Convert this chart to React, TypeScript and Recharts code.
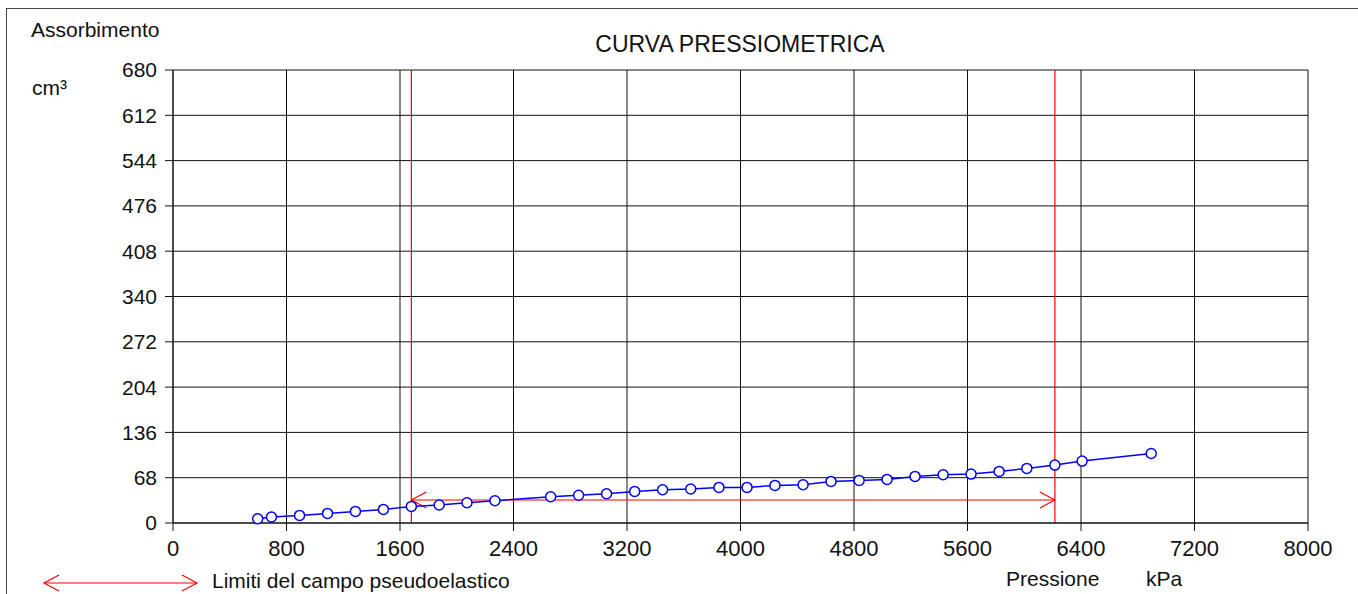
import React from 'react';
import { LineChart, Line, XAxis, YAxis, CartesianGrid, ReferenceLine } from 'recharts';

const pressures = [597, 694, 892, 1089, 1286, 1483, 1680, 1876, 2072, 2269, 2662, 2859, 3056, 3254, 3451, 3649, 3848, 4046, 4243, 4441, 4638, 4836, 5033, 5230, 5428, 5625, 5823, 6018, 6216, 6408, 6895];
const volumes = [6.4, 9.0, 11.4, 14.4, 17.4, 20.4, 24.9, 27.0, 30.4, 33.4, 39.4, 41.7, 43.9, 47.4, 49.9, 51.0, 53.4, 53.4, 56.4, 57.4, 62.4, 63.9, 65.4, 69.9, 72.4, 73.4, 77.4, 81.9, 86.9, 92.9, 104.4];
const xTicks = [0, 800, 1600, 2400, 3200, 4000, 4800, 5600, 6400, 7200, 8000];
const yTicks = [0, 68, 136, 204, 272, 340, 408, 476, 544, 612, 680];
const elasticLimits = [1680, 6216];
const arrowLevel = 34.5;

const data = pressures.map((p, i) => ({ p, v: volumes[i] }));

const FONT = '"Liberation Sans", Arial, Helvetica, sans-serif';

const ArrowShape = (props: any) => {
  const { x1, y1, x2, y2 } = props;
  const left = Math.min(x1, x2);
  const right = Math.max(x1, x2);
  const y = y1;
  return (
    <g stroke="#ff0000" strokeWidth={1.2} fill="none">
      <line x1={left} y1={y} x2={right} y2={y2} />
      <polyline points={`${left + 15},${y - 8} ${left},${y} ${left + 15},${y + 8}`} />
      <polyline points={`${right - 15},${y - 8} ${right},${y} ${right - 15},${y + 8}`} />
    </g>
  );
};

export default function App() {
  return (
    <div style={{ position: 'absolute', left: 0, top: 0, width: 1358, height: 594, overflow: 'hidden', background: '#fff', fontFamily: FONT }}>
      <div style={{ position: 'absolute', left: 6, top: 8, width: 1500, height: 800, border: '1.5px solid #444', boxSizing: 'border-box' }} />
      <div style={{ position: 'absolute', left: 0, top: 0 }}>
        <LineChart width={1358} height={594} data={data} margin={{ top: 70, right: 50, bottom: 31, left: 113 }} style={{ fontFamily: FONT }}>
          <CartesianGrid stroke="#111" strokeWidth={1} horizontalValues={yTicks} verticalValues={xTicks} />
          <XAxis
            dataKey="p"
            type="number"
            domain={[0, 8000]}
            ticks={xTicks}
            interval={0}
            height={40}
            tickSize={8}
            tickMargin={9}
            stroke="#111"
            tick={{ fill: '#111', fontSize: 22, fontFamily: FONT }}
          />
          <YAxis
            dataKey="v"
            type="number"
            domain={[0, 680]}
            ticks={yTicks}
            interval={0}
            width={60}
            tickSize={8}
            tickMargin={8}
            stroke="#111"
            tick={{ fill: '#111', fontSize: 21, fontFamily: FONT }}
          />
          {elasticLimits.map((x) => (
            <ReferenceLine key={x} x={x} stroke="#ff0000" strokeWidth={1.2} />
          ))}
          <ReferenceLine
            segment={[{ x: elasticLimits[0], y: arrowLevel }, { x: elasticLimits[1], y: arrowLevel }]}
            shape={ArrowShape}
          />
          <Line
            type="linear"
            dataKey="v"
            stroke="#0000ff"
            strokeWidth={1.5}
            dot={{ r: 5, fill: '#fff', stroke: '#0000ff', strokeWidth: 1.5 }}
            isAnimationActive={false}
          />
        </LineChart>
      </div>
      <div style={{ position: 'absolute', left: 31, top: 18, fontSize: 21, color: '#111', lineHeight: '24px' }}>Assorbimento</div>
      <div style={{ position: 'absolute', left: 32, top: 76, fontSize: 21, color: '#111', lineHeight: '24px' }}>cm³</div>
      <div style={{ position: 'absolute', left: 440, width: 600, textAlign: 'center', top: 31, fontSize: 23, color: '#111', lineHeight: '26px' }}>CURVA PRESSIOMETRICA</div>
      <svg style={{ position: 'absolute', left: 0, top: 560 }} width={220} height={34}>
        <g stroke="#ff0000" strokeWidth={1.2} fill="none">
          <line x1={44} y1={23} x2={197} y2={23} />
          <polyline points="59,15 44,23 59,31" />
          <polyline points="182,15 197,23 182,31" />
        </g>
      </svg>
      <div style={{ position: 'absolute', left: 212, top: 569, fontSize: 21, color: '#111', lineHeight: '24px', whiteSpace: 'nowrap' }}>Limiti del campo pseudoelastico</div>
      <div style={{ position: 'absolute', left: 1006, top: 567, fontSize: 21, color: '#111', lineHeight: '24px' }}>Pressione</div>
      <div style={{ position: 'absolute', left: 1146, top: 567, fontSize: 21, color: '#111', lineHeight: '24px' }}>kPa</div>
    </div>
  );
}
